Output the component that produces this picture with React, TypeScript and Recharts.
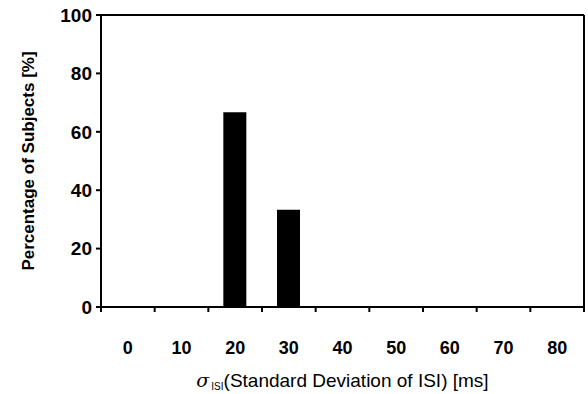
import React from 'react';
import { BarChart, Bar, XAxis, YAxis } from 'recharts';

const categories = ['0', '10', '20', '30', '40', '50', '60', '70', '80'];
const percentages = [0, 0, 66.7, 33.3, 0, 0, 0, 0, 0];
const yTicks = [0, 20, 40, 60, 80, 100];

const W = 588;
const H = 394;
const LEFT = 101;
const RIGHT = 4;
const TOP = 15;
const BOTTOM = 87;
const STEP = (W - LEFT - RIGHT) / categories.length;
const FONT = '"Liberation Sans", Arial, sans-serif';

const data = categories.map((c, i) => ({ label: c, value: percentages[i] }));

function XTick(props: any) {
  const { x, y, payload, index } = props;
  const axisY = y - 5;
  return (
    <g>
      <line x1={x - STEP / 2} x2={x - STEP / 2} y1={axisY} y2={axisY + 5} stroke="#000" strokeWidth={2} />
      {index === categories.length - 1 && (
        <line x1={x + STEP / 2} x2={x + STEP / 2} y1={axisY} y2={axisY + 5} stroke="#000" strokeWidth={2} />
      )}
      <text x={x} y={axisY + 47} textAnchor="middle" fontSize={18} fontWeight={700} fontFamily={FONT} fill="#000">
        {payload.value}
      </text>
    </g>
  );
}

function XTitle() {
  return (
    <text x={LEFT + (W - LEFT - RIGHT) / 2} y={387} textAnchor="middle" fontSize={19} fontFamily={FONT} fill="#000">
      <tspan fontStyle="italic" fontFamily="'DejaVu Serif', serif">σ</tspan>
      <tspan fontSize={10} dy={3} dx={2}>ISI</tspan>
      <tspan dy={-3}>(Standard Deviation of ISI) [ms]</tspan>
    </text>
  );
}

function YTitle() {
  return (
    <text
      x={0}
      y={0}
      transform={`translate(34, ${TOP + (H - TOP - BOTTOM) / 2}) rotate(-90)`}
      textAnchor="middle"
      fontSize={17}
      fontWeight={700}
      fontFamily={FONT}
      fill="#000"
    >
      Percentage of Subjects [%]
    </text>
  );
}

export default function App() {
  return (
    <div style={{ position: 'absolute', left: 0, top: 0, width: W, height: H, background: '#fff' }}>
      <BarChart width={W} height={H} data={data} margin={{ top: 0, right: 0, left: 0, bottom: 0 }}>
        <XAxis
          dataKey="label"
          height={BOTTOM}
          tickLine={false}
          tickSize={5}
          tickMargin={0}
          interval={0}
          axisLine={{ stroke: '#000', strokeWidth: 2 }}
          tick={<XTick />}
          label={{ content: () => <XTitle /> }}
        />
        <XAxis
          xAxisId="top"
          dataKey="label"
          orientation="top"
          height={TOP}
          tick={false}
          tickLine={false}
          axisLine={{ stroke: '#000', strokeWidth: 2 }}
        />
        <YAxis
          domain={[0, 100]}
          ticks={yTicks}
          width={LEFT}
          tickSize={5}
          tickMargin={4}
          interval={0}
          axisLine={{ stroke: '#000', strokeWidth: 2 }}
          tickLine={{ stroke: '#000', strokeWidth: 2 }}
          tick={{ fill: '#000', fontSize: 19, fontWeight: 700, fontFamily: FONT }}
          label={{ content: () => <YTitle /> }}
        />
        <YAxis
          yAxisId="right"
          orientation="right"
          domain={[0, 100]}
          width={RIGHT}
          tick={false}
          tickLine={false}
          axisLine={{ stroke: '#000', strokeWidth: 2 }}
        />
        <Bar dataKey="value" fill="#000" barSize={23} isAnimationActive={false} />
      </BarChart>
    </div>
  );
}
